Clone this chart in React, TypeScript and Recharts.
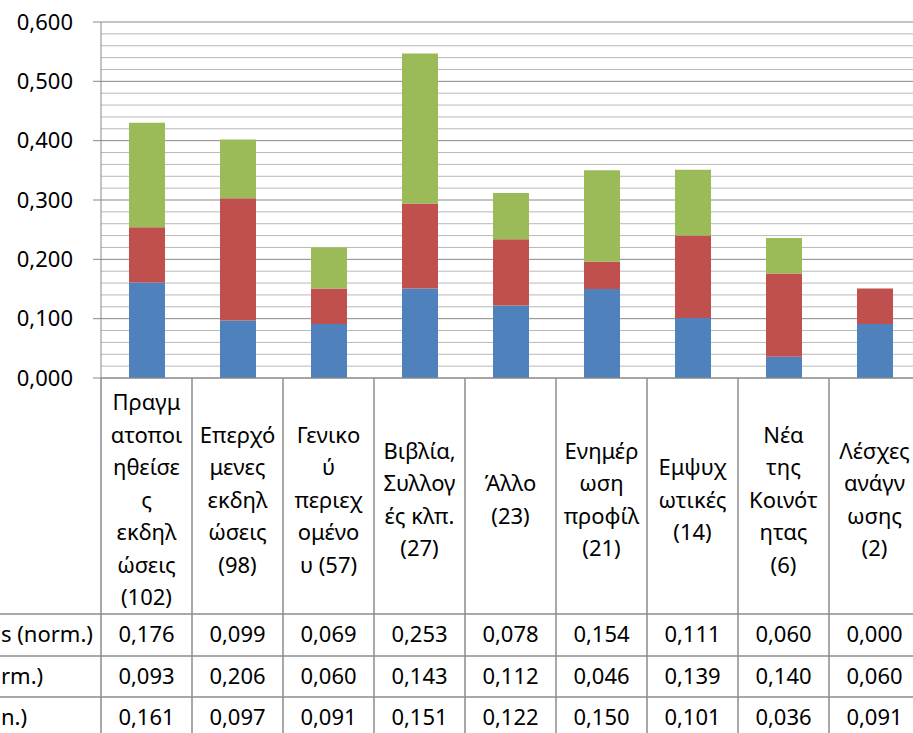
import React from 'react';
import { BarChart, Bar, XAxis, YAxis, CartesianGrid } from 'recharts';

// category labels, already broken into the lines shown in the table cells
const categoryLines = [
  ['Πραγμ', 'ατοποι', 'ηθείσε', 'ς', 'εκδηλ', 'ώσεις', '(102)'],
  ['Επερχό', 'μενες', 'εκδηλ', 'ώσεις', '(98)'],
  ['Γενικο', 'ύ', 'περιεχ', 'ομένο', 'υ (57)'],
  ['Βιβλία,', 'Συλλογ', 'ές κλπ.', '(27)'],
  ['Άλλο', '(23)'],
  ['Ενημέρ', 'ωση', 'προφίλ', '(21)'],
  ['Εμψυχ', 'ωτικές', '(14)'],
  ['Νέα', 'της', 'Κοινότ', 'ητας', '(6)'],
  ['Λέσχες', 'ανάγν', 'ωσης', '(2)'],
];

// stacked series, bottom to top
const blueValues = [0.161, 0.097, 0.091, 0.151, 0.122, 0.15, 0.101, 0.036, 0.091];
const redValues = [0.093, 0.206, 0.06, 0.143, 0.112, 0.046, 0.139, 0.14, 0.06];
const greenValues = [0.176, 0.099, 0.069, 0.253, 0.078, 0.154, 0.111, 0.06, 0.0];

// visible ends of the data-table row headers (top row = top series)
const rowLabels = ['s (norm.)', 'rm.)', 'n.)'];

const majorTicks = [0, 0.1, 0.2, 0.3, 0.4, 0.5, 0.6];
const minorTicks = majorTicks.slice(0, -1).flatMap((t) => [t + 0.02, t + 0.04, t + 0.06, t + 0.08]);

const data = categoryLines.map((lines, i) => ({
  name: lines.join(' '),
  blue: blueValues[i],
  red: redValues[i],
  green: greenValues[i],
}));

const FONT = '"Noto Sans", sans-serif';
const FONT_SIZE = 22;
const CHART_W = 920;
const CHART_H = 733;
const PLOT_LEFT = 101;
const PLOT_BOTTOM = 378;
const BAND = (CHART_W - PLOT_LEFT) / categoryLines.length;
const GRID_LINE = '#888888';
const TABLE_LINE = '#8c8c8c';
const ROW_TOPS = [614, 656, 697];
const ROW_H = 41.5;
const LINE_STEP = 32.5;
const LABEL_CENTER = 500;

const fmt = (v: number) => v.toFixed(3).replace('.', ',');

const YTick = (props: any) => {
  const { x, y, payload } = props;
  return (
    <g>
      <line x1={x - 8} x2={x} y1={y} y2={y} stroke={GRID_LINE} strokeWidth={1} />
      <text x={x - 28} y={y} dy="0.35em" textAnchor="end" fontFamily={FONT} fontSize={FONT_SIZE} fill="#000">
        {fmt(payload.value)}
      </text>
    </g>
  );
};

// each category tick draws its column of the data table
const TableTick = (props: any) => {
  const { x, index } = props;
  const lines = categoryLines[index];
  const rows = [greenValues[index], redValues[index], blueValues[index]];
  const top = PLOT_BOTTOM;
  return (
    <g>
      {index === 0 && (
        <g>
          <line x1={x - BAND / 2} x2={x - BAND / 2} y1={top} y2={CHART_H} stroke={TABLE_LINE} strokeWidth={1.5} />
          {ROW_TOPS.map((ry) => (
            <line key={ry} x1={0} x2={CHART_W} y1={ry} y2={ry} stroke={TABLE_LINE} strokeWidth={1.5} />
          ))}
          {rowLabels.map((lbl, r) => (
            <text
              key={lbl}
              x={1}
              y={ROW_TOPS[r] + ROW_H / 2}
              dy="0.35em"
              textAnchor="start"
              fontFamily={FONT}
              fontSize={FONT_SIZE}
              fill="#000"
            >
              {lbl}
            </text>
          ))}
        </g>
      )}
      <line x1={x + BAND / 2} x2={x + BAND / 2} y1={top} y2={CHART_H} stroke={TABLE_LINE} strokeWidth={1.5} />
      {lines.map((ln, i) => (
        <text
          key={i}
          x={x}
          y={LABEL_CENTER + (i - (lines.length - 1) / 2) * LINE_STEP}
          dy="0.35em"
          textAnchor="middle"
          fontFamily={FONT}
          fontSize={FONT_SIZE}
          fill="#000"
        >
          {ln}
        </text>
      ))}
      {rows.map((v, r) => (
        <text
          key={r}
          x={x}
          y={ROW_TOPS[r] + ROW_H / 2}
          dy="0.35em"
          textAnchor="middle"
          fontFamily={FONT}
          fontSize={FONT_SIZE}
          fill="#000"
        >
          {fmt(v)}
        </text>
      ))}
    </g>
  );
};

export default function App() {
  return (
    <div style={{ position: 'absolute', left: 0, top: 0, width: 913, height: 733, overflow: 'hidden', background: '#fff' }}>
      <BarChart
        width={CHART_W}
        height={CHART_H}
        data={data}
        margin={{ top: 22, right: 0, bottom: 0, left: 21 }}
      >
        <CartesianGrid vertical={false} horizontalValues={minorTicks} stroke="#b8b8b8" strokeWidth={1} />
        <CartesianGrid vertical={false} horizontalValues={majorTicks} stroke={GRID_LINE} strokeWidth={1} />
        <XAxis
          dataKey="name"
          height={355}
          interval={0}
          tickLine={false}
          tickSize={0}
          tickMargin={0}
          axisLine={{ stroke: GRID_LINE, strokeWidth: 1 }}
          tick={<TableTick />}
        />
        <YAxis
          width={80}
          domain={[0, 0.6]}
          ticks={majorTicks}
          interval={0}
          tickLine={false}
          tickSize={0}
          tickMargin={0}
          axisLine={{ stroke: GRID_LINE, strokeWidth: 1 }}
          tick={<YTick />}
        />
        <Bar dataKey="blue" stackId="a" fill="#4F81BD" barSize={36} isAnimationActive={false} />
        <Bar dataKey="red" stackId="a" fill="#C0504D" barSize={36} isAnimationActive={false} />
        <Bar dataKey="green" stackId="a" fill="#9BBB59" barSize={36} isAnimationActive={false} />
      </BarChart>
    </div>
  );
}
